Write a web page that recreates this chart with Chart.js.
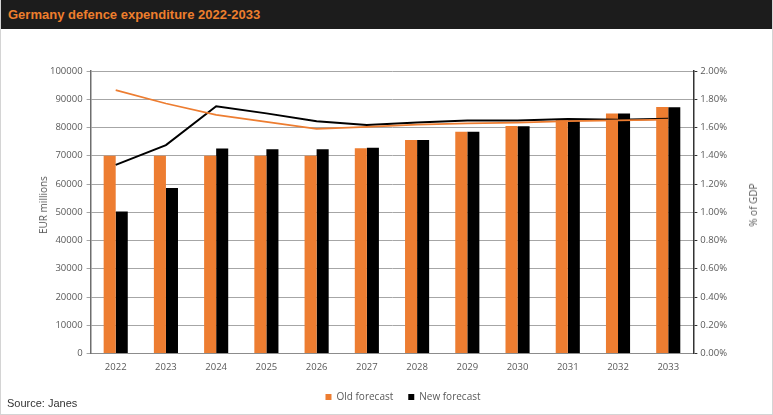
<!DOCTYPE html>
<html>
<head>
<meta charset="utf-8">
<script src="https://cdn.jsdelivr.net/npm/chart.js@4.4.1/dist/chart.umd.min.js"></script>
<style>
  html, body { margin: 0; padding: 0; background: #fff; }
  #frame {
    position: relative; width: 773px; height: 415px; box-sizing: border-box;
    border: 1px solid #d4d4d4; border-top: none; overflow: hidden;
  }
  #head {
    position: absolute; left: 0; top: 0; width: 773px; height: 29px; background: #1c1c1c;
    color: #ee7f2d; font: bold 13px "Liberation Sans", Arial, sans-serif;
    line-height: 30px; padding-left: 7px; box-sizing: border-box;
  }
  #src {
    position: absolute; left: 6px; top: 397px; color: #333;
    font: 11px "Liberation Sans", Arial, sans-serif;
  }
  .ytitle {
    position: absolute; top: 205px; color: #595959; white-space: nowrap;
    font: 10px "Open Sans", sans-serif;
    transform: translate(-50%, -50%) rotate(-90deg);
  }
  #wrap { position: absolute; left: 0; top: 0; width: 771px; height: 414px; }
</style>
</head>
<body>
<div id="frame">
  <div id="wrap"><canvas id="c"></canvas></div>
  <div id="head">Germany defence expenditure 2022-2033</div>
  <div class="ytitle" style="left:42px">EUR millions</div>
  <div class="ytitle" style="left:752px">% of GDP</div>
  <div id="src">Source: Janes</div>
</div>
<script>
// values
const years = ['2022','2023','2024','2025','2026','2027','2028','2029','2030','2031','2032','2033'];
const oldForecast = [70000, 70000, 70000, 70000, 70000, 72700, 75600, 78500, 80500, 82700, 85000, 87300];
const newForecast = [50300, 58600, 72600, 72300, 72300, 72800, 75600, 78500, 80400, 82600, 85000, 87200];
const oldGdp = [1.865, 1.77, 1.69, 1.64, 1.59, 1.605, 1.62, 1.63, 1.635, 1.645, 1.65, 1.655];
const newGdp = [1.335, 1.475, 1.75, 1.70, 1.645, 1.617, 1.635, 1.65, 1.65, 1.66, 1.655, 1.662];

const orange = '#ed7d31';
const tickFont = { family: '"Open Sans", sans-serif', size: 9.5 };
const gray = '#595959';

new Chart(document.getElementById('c'), {
  data: {
    labels: years,
    datasets: [
      { type: 'line', label: 'Old % GDP', data: oldGdp, yAxisID: 'y2', borderColor: orange,
        borderWidth: 1.75, pointRadius: 0, tension: 0, order: 0 },
      { type: 'line', label: 'New % GDP', data: newGdp, yAxisID: 'y2', borderColor: '#000',
        borderWidth: 2, pointRadius: 0, tension: 0, order: 0 },
      { type: 'bar', label: 'Old forecast', data: oldForecast, yAxisID: 'y', backgroundColor: orange,
        categoryPercentage: 0.48, barPercentage: 1.0, order: 1 },
      { type: 'bar', label: 'New forecast', data: newForecast, yAxisID: 'y', backgroundColor: '#000',
        categoryPercentage: 0.48, barPercentage: 1.0, order: 1 }
    ]
  },
  options: {
    responsive: true,
    maintainAspectRatio: false,
    animation: false,
    layout: { padding: { top: 71, left: 45, right: 12, bottom: 2 } },
    plugins: {
      tooltip: { enabled: false },
      legend: {
        position: 'bottom',
        labels: {
          filter: item => item.text.indexOf('GDP') < 0,
          boxWidth: 6, boxHeight: 6, padding: 15, color: gray,
          font: { family: '"Open Sans", sans-serif', size: 10 }
        }
      }
    },
    scales: {
      x: {
        grid: { display: false },
        border: { color: '#8c8c8c', width: 1 },
        ticks: { color: gray, font: tickFont, padding: 0 },
        // spacer between the year labels and the legend
        title: { display: true, text: ' ', color: 'rgba(0,0,0,0)', font: { size: 3.4 }, padding: 0 }
      },
      y: {
        position: 'left', min: 0, max: 100000,
        ticks: { stepSize: 10000, color: gray, font: tickFont, padding: 4,
          callback: v => String(v) },
        grid: { color: '#a6a6a6', lineWidth: 1, tickLength: 4 },
        border: { color: '#6e6e6e', width: 1.5 }
      },
      y2: {
        position: 'right', min: 0, max: 2,
        ticks: { stepSize: 0.2, color: gray, font: tickFont, padding: 3,
          callback: v => v.toFixed(2) + '%' },
        grid: { drawOnChartArea: false, color: '#333', tickLength: 4 },
        border: { color: '#333', width: 1.5 },
        // space only; the visible title is the rotated HTML label
        title: { display: true, text: '% of GDP', color: 'rgba(0,0,0,0)',
          font: { family: '"Open Sans", sans-serif', size: 10 }, padding: { top: 18, bottom: 0 } }
      }
    }
  }
});
</script>
</body>
</html>
